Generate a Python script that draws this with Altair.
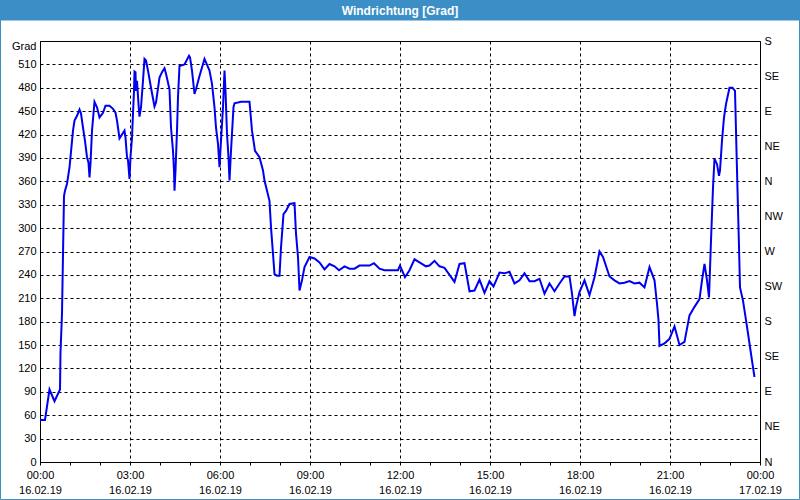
import altair as alt
import pandas as pd
import json

# minutes after 16.02.19 00:00 and wind direction in degrees
minutes = [0, 10, 19, 29, 40, 41, 44, 48, 50, 54, 59, 61, 66, 69, 74, 79, 82, 86, 90, 94,
           97, 99, 101, 104, 109, 114, 119, 126, 131, 139, 146, 151, 154, 159, 164, 169, 171, 174, 176, 179,
           181, 184, 186, 188, 189, 191, 192, 194, 197, 199, 202, 206, 209, 212, 216, 222, 229, 232, 239, 244,
           249, 252, 259, 262, 266, 268, 269, 271, 274, 276, 279, 289, 298, 300, 304, 309, 312, 319, 329, 339,
           344, 349, 352, 356, 359, 362, 366, 369, 371, 374, 377, 379, 382, 387, 389, 402, 419, 424, 430, 439,
           446, 449, 454, 459, 462, 466, 469, 474, 479, 482, 487, 492, 499, 509, 512, 516, 519, 524, 529, 539,
           549, 559, 569, 579, 589, 598, 609, 619, 629, 639, 659, 668, 679, 689, 706, 716, 720, 726, 730, 739,
           749, 759, 772, 779, 789, 799, 809, 818, 829, 839, 849, 859, 869, 879, 889, 899, 907, 919, 929, 939,
           949, 959, 969, 979, 989, 999, 1009, 1019, 1029, 1039, 1049, 1059, 1064, 1069, 1072, 1079, 1089, 1099, 1109, 1119,
           1126, 1139, 1149, 1159, 1169, 1179, 1189, 1199, 1209, 1219, 1229, 1234, 1237, 1239, 1249, 1259, 1269, 1279, 1289, 1299,
           1309, 1319, 1324, 1329, 1334, 1338, 1342, 1346, 1349, 1354, 1358, 1360, 1364, 1368, 1372, 1379, 1385, 1390, 1392, 1394,
           1398, 1400, 1406, 1412, 1419, 1424, 1429]
degrees = [54, 54, 93, 78, 93, 141, 190, 341, 348, 357, 378, 391, 425, 438, 444, 452, 447, 429, 412, 391,
           384, 365, 383, 425, 462, 455, 442, 448, 457, 457, 453, 448, 438, 415, 420, 425, 416, 391, 387, 363,
           391, 416, 447, 476, 501, 500, 476, 489, 459, 443, 455, 489, 517, 515, 502, 480, 456, 461, 493, 500,
           505, 498, 478, 429, 399, 374, 348, 374, 425, 468, 508, 510, 521, 519, 502, 472, 478, 495, 517, 502,
           485, 455, 429, 408, 378, 412, 455, 502, 476, 421, 391, 361, 399, 455, 460, 462, 462, 425, 399, 391,
           374, 361, 348, 335, 301, 267, 241, 239, 239, 275, 318, 322, 331, 332, 293, 263, 220, 233, 250, 263,
           261, 256, 247, 254, 251, 246, 251, 248, 248, 252, 252, 255, 248, 246, 246, 246, 252, 243, 237, 246,
           260, 256, 251, 252, 258, 251, 249, 241, 231, 254, 255, 219, 220, 234, 217, 232, 225, 243, 242, 244,
           229, 233, 242, 232, 232, 235, 216, 229, 219, 229, 238, 238, 216, 187, 199, 218, 233, 214, 237, 270,
           263, 238, 233, 229, 230, 232, 229, 230, 224, 250, 233, 203, 182, 149, 152, 158, 174, 150, 154, 188,
           199, 209, 233, 254, 233, 211, 284, 352, 389, 382, 367, 374, 412, 442, 459, 480, 480, 476, 425, 374,
           276, 224, 207, 182, 152, 130, 109]

left_ticks = list(range(0, 511, 30))
right_ticks = list(range(0, 541, 45))
right_labels = ["N", "NE", "E", "SE", "S", "SW", "W", "NW", "N", "NE", "E", "SE", "S"]
hour_ticks = list(range(0, 25))
time_labels = ["00:00", "03:00", "06:00", "09:00", "12:00", "15:00", "18:00", "21:00", "00:00"]
date_labels = ["16.02.19"] * 8 + ["17.02.19"]
title_text = "Windrichtung [Grad]"
unit_text = "Grad"

df = pd.DataFrame({"h": [m / 60 for m in minutes], "deg": degrees})

FONT = "Liberation Sans"
BLUE_BAR = "#3c8fc6"

x_enc = alt.X(
    "h:Q",
    scale=alt.Scale(domain=[0, 24], nice=False, zero=False),
    axis=alt.Axis(
        values=hour_ticks,
        title=None,
        labelExpr=(
            "datum.value % 3 === 0 ? ["
            + json.dumps(time_labels) + "[datum.value/3], "
            + json.dumps(date_labels) + "[datum.value/3]] : ''"
        ),
        labelLineHeight=15,
        labelBaseline="top",
        labelPadding=4,
        tickSize=3,
        tickColor="black",
        grid=True,
        gridColor="black",
        gridDash=[3, 3],
        gridOpacity={"condition": {"test": "datum.value % 3 === 0", "value": 1}, "value": 0},
        domainColor="black",
        labelFlush=False,
        labelOverlap=False,
    ),
)

y_scale = alt.Scale(domain=[0, 540], nice=False, zero=True)

line_left = alt.Chart(df).mark_line(color="#0000f0", strokeWidth=2).encode(
    x=x_enc,
    y=alt.Y(
        "deg:Q",
        scale=y_scale,
        axis=alt.Axis(
            values=left_ticks,
            title=unit_text,
            titleAngle=0,
            titleAlign="right",
            titleBaseline="middle",
            titleX=-4,
            titleY=5,
            titleFont=FONT,
            titleFontSize=11,
            titleFontWeight="normal",
            titleColor="black",
            ticks=False,
            labelPadding=4,
            grid=True,
            gridColor="black",
            gridDash=[3, 3],
            domainColor="black",
            labelFlush=False,
            labelOverlap=False,
        ),
    ),
)

line_right = alt.Chart(df).mark_line(strokeOpacity=0).encode(
    x=x_enc,
    y=alt.Y(
        "deg:Q",
        scale=y_scale,
        axis=alt.Axis(
            orient="right",
            values=right_ticks,
            title=None,
            labelExpr=json.dumps(right_labels) + "[round(datum.value/45)]",
            ticks=False,
            labelPadding=4,
            grid=False,
            domain=False,
            labelFlush=False,
            labelOverlap=False,
        ),
    ),
)

one = alt.Data(values=[{}])

title_bar = alt.Chart(one).mark_rect(color=BLUE_BAR).encode(
    x=alt.value(-40), x2=alt.value(760), y=alt.value(-41), y2=alt.value(-20.5)
)
border = alt.Chart(one).mark_rect(fill=None, stroke=BLUE_BAR, strokeWidth=1).encode(
    x=alt.value(-39.5), x2=alt.value(759.5), y=alt.value(-40.5), y2=alt.value(458.5)
)
title_mark = alt.Chart(one).mark_text(
    text=title_text, color="white", font=FONT, fontSize=12, fontWeight="bold",
    align="center", baseline="middle"
).encode(x=alt.value(360), y=alt.value(-30.5))

chart = (
    alt.layer(border, title_bar, title_mark, line_left, line_right)
    .resolve_scale(y="independent")
    .properties(
        width=720,
        height=421,
        autosize=alt.AutoSizeParams(type="none"),
        padding={"left": 40, "top": 41, "right": 40, "bottom": 38},
        background="white",
    )
    .configure_view(stroke="black", strokeWidth=1)
    .configure_axis(labelFont=FONT, labelFontSize=11, labelColor="black")
)

chart.save("out.html", embed_options={"renderer": "svg", "actions": False})
